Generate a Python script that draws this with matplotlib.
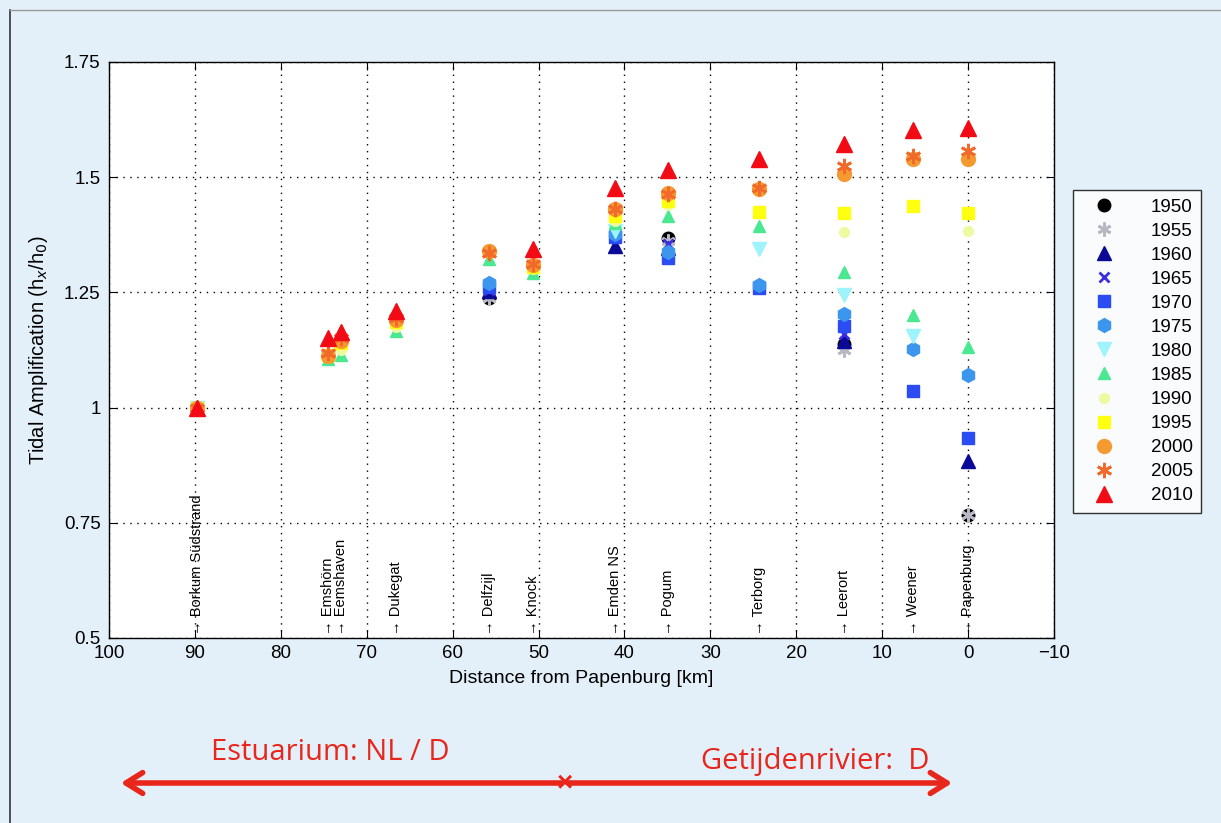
import numpy as np
import matplotlib.pyplot as plt
from matplotlib.patches import FancyArrowPatch

nan = np.nan

# stations (km from Papenburg)
stations = ["Borkum Südstrand", "Emshörn", "Eemshaven", "Dukegat", "Delfzijl",
            "Knock", "Emden NS", "Pogum", "Terborg", "Leerort", "Weener", "Papenburg"]
station_km = [89.7, 74.5, 73.0, 66.6, 55.8, 50.6, 41.1, 34.9, 24.3, 14.4, 6.4, 0.0]

years = [1950, 1955, 1960, 1965, 1970, 1975, 1980, 1985, 1990, 1995, 2000, 2005, 2010]

# tidal amplification per year, one value per station (nan = no data)
amp = {
    1950: [nan, nan, nan, nan, 1.238, nan, nan, 1.369, nan, 1.137, nan, 0.768],
    1955: [nan, nan, nan, nan, 1.238, nan, nan, 1.362, nan, 1.125, nan, 0.768],
    1960: [nan, nan, nan, nan, 1.253, nan, 1.351, 1.347, nan, 1.145, nan, 0.885],
    1965: [nan, nan, nan, nan, 1.255, nan, 1.380, 1.355, nan, 1.160, nan, nan],
    1970: [nan, nan, nan, nan, 1.262, nan, 1.370, 1.325, 1.260, 1.178, 1.037, 0.935],
    1975: [nan, nan, nan, nan, 1.270, nan, 1.377, 1.338, 1.265, 1.203, 1.128, 1.070],
    1980: [1.0, 1.108, nan, nan, nan, nan, 1.384, nan, 1.345, 1.245, 1.155, nan],
    1985: [1.0, 1.105, 1.115, 1.167, 1.323, 1.293, 1.400, 1.416, 1.395, 1.295, 1.200, 1.132],
    1990: [1.0, 1.110, 1.125, 1.175, nan, 1.300, 1.405, 1.440, nan, 1.380, nan, 1.384],
    1995: [1.0, 1.115, 1.140, 1.185, nan, 1.305, 1.416, 1.449, 1.425, 1.422, 1.437, 1.423],
    2000: [1.0, 1.113, 1.145, 1.190, 1.340, 1.310, 1.430, 1.466, 1.475, 1.507, 1.540, 1.540],
    2005: [1.0, 1.118, 1.150, 1.195, 1.335, 1.312, 1.432, 1.463, 1.477, 1.525, 1.546, 1.557],
    2010: [1.0, 1.150, 1.165, 1.210, nan, 1.345, 1.477, 1.516, 1.540, 1.572, 1.603, 1.607],
}

asterisk = (6, 2, 0)
styles = {
    1950: dict(marker="o", color="black", ms=9),
    1955: dict(marker=asterisk, color="#b8b8c4", ms=10),
    1960: dict(marker="^", color="#0a0a96", ms=10),
    1965: dict(marker="x", color="#3a2ee0", ms=7),
    1970: dict(marker="s", color="#2a4cf2", ms=8),
    1975: dict(marker="h", color="#3c96ee", ms=10),
    1980: dict(marker="v", color="#9ef4fa", ms=10),
    1985: dict(marker="^", color="#4ae890", ms=9),
    1990: dict(marker="o", color="#eefaa0", ms=7),
    1995: dict(marker="s", color="#ffff10", ms=9),
    2000: dict(marker="o", color="#f59a30", ms=10),
    2005: dict(marker=asterisk, color="#f26a2a", ms=11),
    2010: dict(marker="^", color="#f20a14", ms=11),
}

plt.rcParams["font.family"] = ["Liberation Sans", "DejaVu Sans"]

fig = plt.figure(figsize=(12.21, 8.23), dpi=100)
fig.patch.set_facecolor("#e4f0f9")
ax = fig.add_axes([109 / 1221, 1 - 638 / 823, (1054 - 109) / 1221, (638 - 62) / 823])
ax.set_facecolor("white")

for y in years:
    st = styles[y]
    mew = 2 if st["marker"] in ("x", asterisk) else 1
    ax.plot(station_km, amp[y], linestyle="none", marker=st["marker"],
            color=st["color"], markersize=st["ms"], markeredgewidth=mew,
            label=str(y))

ax.set_xlim(100, -10)
ax.set_ylim(0.5, 1.75)
ax.set_xticks(np.arange(100, -11, -10))
ax.set_yticks([0.5, 0.75, 1.0, 1.25, 1.5, 1.75])
ax.set_yticklabels(["0.5", "0.75", "1", "1.25", "1.5", "1.75"])
ax.tick_params(direction="in", length=6, labelsize=13.5, top=True, right=True)
ax.tick_params(axis="x", pad=5)
ax.tick_params(axis="y", pad=6)
ax.grid(True, linestyle=(0, (1, 4)), color="black", linewidth=1)
for s in ax.spines.values():
    s.set_linewidth(1)

ax.set_xlabel("Distance from Papenburg [km]", fontsize=14, labelpad=6)
ax.set_ylabel("Tidal Amplification (h$_x$/h$_0$)", fontsize=14.5, labelpad=10)

for name, km in zip(stations, station_km):
    ax.text(km, 0.507, "\u2192 " + name, rotation=90, ha="center", va="bottom",
            fontsize=10.5)

ax.legend(loc="upper left", bbox_to_anchor=(1073 / 1221, 1 - 190 / 823),
          bbox_transform=fig.transFigure, frameon=True, fancybox=False,
          edgecolor="black", fontsize=13.5, labelspacing=0.37, handletextpad=1.3,
          borderpad=0.45, borderaxespad=0, markerfirst=True, handlelength=2.4)

# slide frame
fig.add_artist(plt.Line2D([10 / 1221, 10 / 1221], [0, 1 - 10 / 823],
                          transform=fig.transFigure, color="#333333", lw=1.2))
fig.add_artist(plt.Line2D([10 / 1221, 1], [1 - 10 / 823, 1 - 10 / 823],
                          transform=fig.transFigure, color="#999999", lw=1))

# bottom annotation
red = "#e8261c"
ay = 1 - 783 / 823
xm = 565 / 1221
for x0, x1 in [(xm, 118 / 1221), (xm, 955 / 1221)]:
    fig.add_artist(FancyArrowPatch((x0, ay), (x1, ay), transform=fig.transFigure,
                                   arrowstyle="->,head_length=8,head_width=5",
                                   color=red, lw=4, mutation_scale=1.5))
fig.text(xm, ay, "\u00d7", color=red, fontsize=20, ha="center", va="center",
         fontweight="bold")
bottom_font = ["Liberation Sans Narrow", "Open Sans", "DejaVu Sans"]
fig.text(330 / 1221, 1 - 752 / 823, "Estuarium: NL / D", color=red, fontsize=21,
         ha="center", va="center", family=bottom_font)
fig.text(815 / 1221, 1 - 762 / 823, "Getijdenrivier:  D", color=red, fontsize=21,
         ha="center", va="center", family=bottom_font)

fig.savefig("out.png", dpi=100, facecolor=fig.get_facecolor())
